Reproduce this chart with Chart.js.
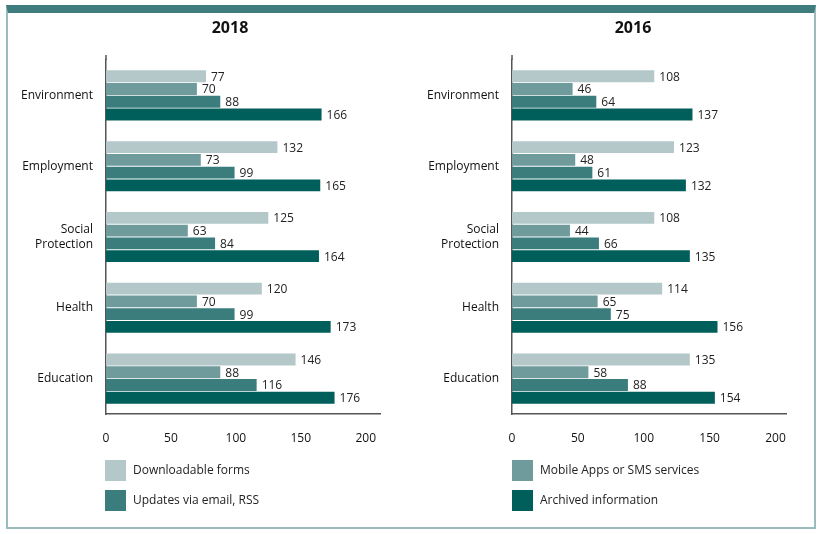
<!DOCTYPE html>
<html>
<head>
<meta charset="utf-8">
<script src="https://cdn.jsdelivr.net/npm/chart.js@4.4.1/dist/chart.umd.min.js"></script>
<style>
  body { margin: 0; background: #fff; }
  #wrap { position: relative; width: 824px; height: 534px; overflow: hidden; }
  #frame { position: absolute; left: 6px; top: 5px; width: 810px; height: 524px;
           border: 2px solid #9bbcbc; border-top: 8px solid #3f7c7d; box-sizing: border-box; }
  canvas { position: absolute; top: 0; }
</style>
</head>
<body>
<div id="wrap">
  <div id="frame"></div>
  <canvas id="left" width="412" height="534" style="left:0"></canvas>
  <canvas id="right" width="412" height="534" style="left:412px"></canvas>
</div>
<script>
const categories = ['Environment', 'Employment', ['Social', 'Protection'], 'Health', 'Education'];
const seriesNames = ['Downloadable forms', 'Mobile Apps or SMS services', 'Updates via email, RSS', 'Archived information'];
const seriesColors = ['#b4c8c9', '#6f9b9d', '#3b7d7d', '#005f5b'];

const forms2018 = [77, 132, 125, 120, 146];
const mobile2018 = [70, 73, 63, 70, 88];
const updates2018 = [88, 99, 84, 99, 116];
const archived2018 = [166, 165, 164, 173, 176];

const forms2016 = [108, 123, 108, 114, 135];
const mobile2016 = [46, 48, 44, 65, 58];
const updates2016 = [64, 61, 66, 75, 88];
const archived2016 = [137, 132, 135, 156, 154];

const xTicks = [0, 50, 100, 150, 200];

const FONT = '"Open Sans", sans-serif';

// value labels, panel title and the half-legend of each panel
const extras = {
    id: 'extras',
    afterDatasetsDraw(chart, args, opts) {
        const ctx = chart.ctx;
        const area = chart.chartArea;
        ctx.save();
        // y axis line runs a bit above the plot
        ctx.strokeStyle = '#555';
        ctx.lineWidth = 1.5;
        ctx.beginPath();
        ctx.moveTo(area.left, area.top);
        ctx.lineTo(area.left, area.top - 5);
        ctx.stroke();

        ctx.font = '12px ' + FONT;
        ctx.fillStyle = '#222';
        ctx.textAlign = 'left';
        ctx.textBaseline = 'middle';
        chart.data.datasets.forEach((ds, i) => {
            chart.getDatasetMeta(i).data.forEach((bar, j) => {
                ctx.fillText(ds.data[j], bar.x + 5, bar.y + 1);
            });
        });

        ctx.font = 'bold 16px ' + FONT;
        ctx.fillStyle = '#111';
        ctx.textAlign = 'center';
        ctx.fillText(opts.title, opts.titleX, 28);

        ctx.font = '12px ' + FONT;
        ctx.textAlign = 'left';
        opts.legend.forEach((idx, k) => {
            const y = 460 + k * 30;
            ctx.fillStyle = seriesColors[idx];
            ctx.fillRect(opts.legendX, y, 21, 21);
            ctx.fillStyle = '#222';
            ctx.fillText(seriesNames[idx], opts.legendX + 28, y + 11);
        });
        ctx.restore();
    }
};

function makeChart(id, title, values, axisMax, yWidth, padRight, titleX, legendX, legend) {
    const ctx = document.getElementById(id).getContext('2d');
    return new Chart(ctx, {
        type: 'bar',
        data: {
            labels: categories,
            datasets: values.map((v, i) => ({
                label: seriesNames[i],
                data: v,
                backgroundColor: seriesColors[i],
                barPercentage: 0.93,
                categoryPercentage: 0.72
            }))
        },
        options: {
            indexAxis: 'y',
            responsive: false,
            animation: false,
            layout: { padding: { top: 60, bottom: 90, left: 0, right: padRight } },
            plugins: {
                legend: { display: false },
                tooltip: { enabled: false },
                extras: { title: title, titleX: titleX, legendX: legendX, legend: legend }
            },
            scales: {
                x: {
                    min: 0,
                    max: axisMax,
                    afterBuildTicks: s => { s.ticks = xTicks.map(v => ({ value: v })); },
                    afterFit: s => { s.height = 30; },
                    grid: { display: false },
                    border: { display: true, color: '#555', width: 1.5 },
                    ticks: { color: '#111', padding: 9, font: { size: 12, family: FONT } }
                },
                y: {
                    afterFit: s => { s.width = yWidth; },
                    grid: { display: false },
                    border: { display: true, color: '#555', width: 1.5 },
                    ticks: { color: '#111', padding: 5, font: { size: 12, family: FONT } }
                }
            }
        },
        plugins: [extras]
    });
}

makeChart('left', '2018', [forms2018, mobile2018, updates2018, archived2018],
    211, 106, 32, 230, 105, [0, 2]);
makeChart('right', '2016', [forms2016, mobile2016, updates2016, archived2016],
    208, 100, 38, 221, 100, [1, 3]);
</script>
</body>
</html>
